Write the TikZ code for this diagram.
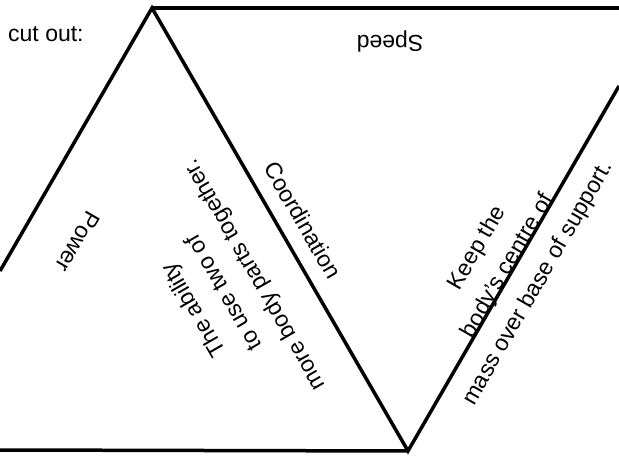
\documentclass[tikz,border=0pt]{standalone}
\usepackage{fontspec}
\setmainfont{Liberation Sans}
\newcommand{\labfont}{\fontsize{23}{28}\selectfont}
\begin{document}
\begin{tikzpicture}[x=1pt,y=1pt,
  edge/.style={line width=3.5pt,line join=miter},
  lab/.style={font=\labfont,align=center,inner sep=0pt}]
\useasboundingbox (0,0) rectangle (619,464);
\fill[white] (0,0) rectangle (619,464);
\coordinate (apex) at (152,456);
\coordinate (bot) at (408,13);
\coordinate (lft) at (0,193);
\coordinate (rgt) at (619,378);
\coordinate (tr) at (619,456);
\coordinate (bl) at (0,14);
\draw[edge] (lft) -- (apex) -- (bot) -- (rgt);
\draw[edge] (apex) -- (tr);
\draw[edge] (bl) -- (bot);
\node[lab,anchor=west] (cut) at (8,430) {cut out:};
\node[lab,rotate=180] (speed) at (390,423) {Speed};
\node[lab,rotate=240] (power) at (78,222) {Power};
\node[lab,rotate=-60] (coord) at (303,244) {Coordination};
\node[lab,rotate=120] (abil) at (225,172) {The ability\\[7pt]to use two of\\[7pt]more body parts together.};
\node[lab,rotate=60] (keep) at (508,198) {Keep the\\[7pt]body's centre of\\[7pt]mass over base of support.};
\end{tikzpicture}
\end{document}
